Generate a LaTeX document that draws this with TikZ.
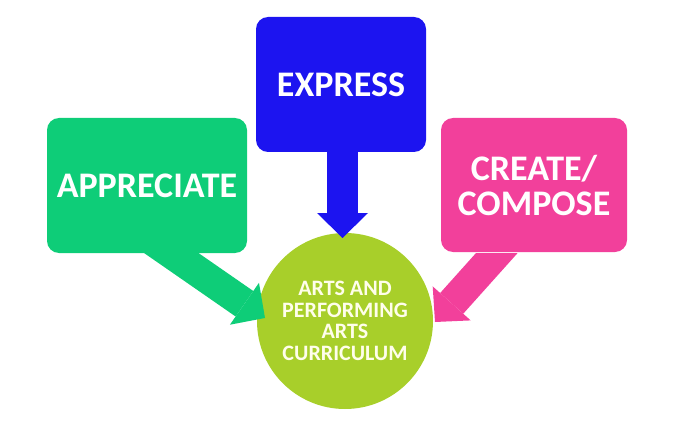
\documentclass[tikz,border=0pt]{standalone}
\usepackage{fontspec}
\setmainfont{Carlito}
\usetikzlibrary{positioning,arrows.meta,calc}

\begin{document}
\begin{tikzpicture}[x=1pt,y=1pt,font=\bfseries,
  box/.style={rounded corners=12pt,inner sep=0pt,text=white,align=center,font=\fontsize{36}{35}\bfseries},
  fatarrow/.style={line width=31pt,-{Triangle[length=25pt,width=51pt,line width=0pt]}}]
\definecolor{cappr}{RGB}{14,205,120}\definecolor{cexpr}{RGB}{28,20,240}
\definecolor{ccrea}{RGB}{242,64,155}\definecolor{ccurr}{RGB}{168,207,42}
\useasboundingbox (0,0) rectangle (677,429);
% ===== the three boxes and the circle =====
\node[box,fill=cappr,minimum width=200pt,minimum height=135pt] (appr) at (147,243.5) {APPRECIATE};
\node[box,fill=cexpr,minimum width=170pt,minimum height=135pt] (expr) at (341,344.5) {EXPRESS};
\node[box,fill=ccrea,minimum width=186pt,minimum height=134pt] (crea) at (534,244) {CREATE/\\COMPOSE};
\node[circle,fill=ccurr,minimum size=176pt,inner sep=0pt,text=white!92!yellow,align=center,
  font=\fontsize{22}{21.7}\bfseries] (curr) at (345,108) {ARTS AND\\PERFORMING\\ARTS\\CURRICULUM};
% ===== fat arrows into the circle =====
\coordinate (a1) at ($(appr.south)+(0,17)$);  \coordinate (a2) at (265,111);
\coordinate (e1) at ($(expr.south)+(1.5,12)$); \coordinate (e2) at (342.5,191);
\coordinate (c1) at ($(crea.south)+(-23,15)$); \coordinate (c2) at (435,107);
\begin{scope}
\clip (0,0) rectangle (677,176);
\draw[fatarrow,cappr] (a1) -- (a2);
\draw[fatarrow,ccrea] (c1) -- (c2);
\end{scope}
\begin{scope}
\clip (0,0) rectangle (677,277);
\draw[fatarrow,cexpr] (e1) -- (e2);
\end{scope}
\end{tikzpicture}
\end{document}
